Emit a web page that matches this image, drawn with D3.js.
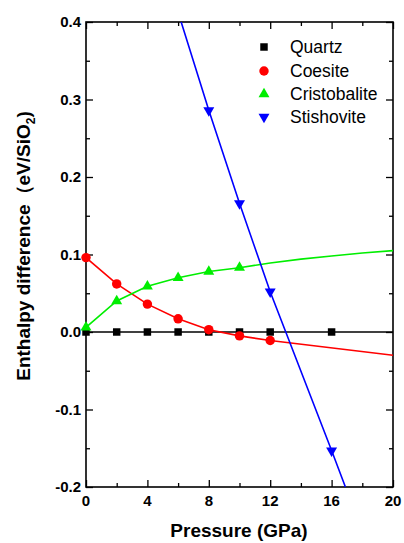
<!DOCTYPE html>
<html>
<head>
<meta charset="utf-8">
<script src="https://d3js.org/d3.v7.min.js"></script>
<style>
  body { margin: 0; background: #fff; }
  svg { display: block; font-family: "Liberation Sans", Arial, sans-serif; }
</style>
</head>
<body>
<svg></svg>
<script>
let width = 404;
let height = 543;
let margin = { left: 86, right: 11, top: 22, bottom: 56 };

// Data
let pressure = [0, 2, 4, 6, 8, 10, 12, 16];
let quartz = [0, 0, 0, 0, 0, 0, 0, 0];
let coesiteP = [0, 2, 4, 6, 8, 10, 12];
let coesite = [0.096, 0.062, 0.036, 0.017, 0.003, -0.005, -0.011];
let cristoP = [0, 2, 4, 6, 8, 10];
let cristo = [0.006, 0.040, 0.059, 0.070, 0.078, 0.083];
let stishP = [8, 10, 12, 16];
let stish = [0.286, 0.166, 0.052, -0.153];

// fitted lines drawn through the points
let quartzLineP = [0, 20];
let quartzLine = [0, 0];
let coesiteLineP = [0, 2, 4, 6, 8, 10, 12, 20];
let coesiteLine = [0.096, 0.062, 0.036, 0.017, 0.003, -0.005, -0.011, -0.030];
let cristoLineP = [0, 2, 4, 6, 8, 10, 12, 14, 16, 18, 20];
let cristoLine = [0.006, 0.040, 0.059, 0.070, 0.078, 0.083, 0.089, 0.094, 0.098, 0.102, 0.105];
let stishLineP = [6.2, 8, 10, 12, 16, 16.9];
let stishLine = [0.4, 0.286, 0.166, 0.052, -0.153, -0.2];

let xTicks = [0, 4, 8, 12, 16, 20];
let xMinor = [2, 6, 10, 14, 18];
let yTicks = [-0.2, -0.1, 0.0, 0.1, 0.2, 0.3, 0.4];
let yMinor = [-0.15, -0.05, 0.05, 0.15, 0.25, 0.35];

let names = ["Quartz", "Coesite", "Cristobalite", "Stishovite"];
let colors = ["#000000", "#ff0000", "#00ee00", "#0000ff"];

let svg = d3.select("svg").attr("width", width).attr("height", height);

let xScale = d3.scaleLinear().domain([0, 20]).range([margin.left, width - margin.right]);
let yScale = d3.scaleLinear().domain([-0.2, 0.4]).range([height - margin.bottom, margin.top]);

let x0 = margin.left, x1 = width - margin.right;
let y0 = height - margin.bottom, y1 = margin.top;

svg.append("clipPath").attr("id", "plot-clip")
  .append("rect")
  .attr("x", x0).attr("y", y1).attr("width", x1 - x0).attr("height", y0 - y1);

// Axes with inward ticks
function ticks(axis, vals, size) {
  return axis.tickValues(vals).tickSize(size).tickFormat("");
}

let gx = svg.append("g").attr("transform", `translate(0, ${y0})`);
gx.call(ticks(d3.axisTop(xScale), xMinor, 4));
gx.append("g").call(ticks(d3.axisTop(xScale), xTicks, 7));

let gxt = svg.append("g").attr("transform", `translate(0, ${y1})`);
gxt.call(ticks(d3.axisBottom(xScale), xMinor, 4));
gxt.append("g").call(ticks(d3.axisBottom(xScale), xTicks, 7));

let gy = svg.append("g").attr("transform", `translate(${x0}, 0)`);
gy.call(ticks(d3.axisRight(yScale), yMinor, 4));
gy.append("g").call(ticks(d3.axisRight(yScale), yTicks, 7));

let gyr = svg.append("g").attr("transform", `translate(${x1}, 0)`);
gyr.call(ticks(d3.axisLeft(yScale), yMinor, 4));
gyr.append("g").call(ticks(d3.axisLeft(yScale), yTicks, 7));

svg.selectAll(".domain").remove();
svg.selectAll(".tick line").attr("stroke", "#000").attr("stroke-width", 1.3);

svg.append("rect")
  .attr("x", x0).attr("y", y1).attr("width", x1 - x0).attr("height", y0 - y1)
  .attr("fill", "none").attr("stroke", "#000").attr("stroke-width", 1.6);

// Tick labels
svg.append("g").selectAll("text").data(xTicks).enter().append("text")
  .attr("x", (d) => xScale(d))
  .attr("y", y0 + 19)
  .attr("text-anchor", "middle")
  .attr("font-size", 15).attr("font-weight", "bold")
  .text((d) => d);

svg.append("g").selectAll("text").data(yTicks).enter().append("text")
  .attr("x", x0 - 5)
  .attr("y", (d) => yScale(d) + 5)
  .attr("text-anchor", "end")
  .attr("font-size", 15).attr("font-weight", "bold")
  .text((d) => d.toFixed(1));

// Axis titles
svg.append("text")
  .attr("x", 239).attr("y", 537)
  .attr("text-anchor", "middle")
  .attr("font-size", 19).attr("font-weight", "bold")
  .text("Pressure (GPa)");

let yt = svg.append("text")
  .attr("transform", `translate(30, 246) rotate(-90)`)
  .attr("text-anchor", "middle")
  .attr("font-size", 19).attr("font-weight", "bold");
yt.append("tspan").text("Enthalpy difference\uFF08eV/SiO");
yt.append("tspan").attr("font-size", 12).attr("dy", 5).text("2");
yt.append("tspan").attr("dy", -5).text(")");

// Lines
let plot = svg.append("g").attr("clip-path", "url(#plot-clip)");
let line = d3.line().x((d) => xScale(d[0])).y((d) => yScale(d[1]));

let lineSets = [
  [quartzLineP, quartzLine],
  [coesiteLineP, coesiteLine],
  [cristoLineP, cristoLine],
  [stishLineP, stishLine],
];
lineSets.forEach((s, i) => {
  plot.append("path")
    .datum(d3.zip(s[0], s[1]))
    .attr("fill", "none")
    .attr("stroke", colors[i])
    .attr("stroke-width", 1.6)
    .attr("d", line);
});

// Markers
let symbols = [
  d3.symbol().type(d3.symbolSquare).size(56),
  d3.symbol().type(d3.symbolCircle).size(70),
  d3.symbol().type(d3.symbolTriangle).size(52),
  d3.symbol().type(d3.symbolTriangle).size(52),
];
let rotations = [0, 0, 0, 180];
let pointSets = [
  [pressure, quartz],
  [coesiteP, coesite],
  [cristoP, cristo],
  [stishP, stish],
];
pointSets.forEach((s, i) => {
  svg.append("g").selectAll("path").data(d3.zip(s[0], s[1])).enter().append("path")
    .attr("d", symbols[i])
    .attr("fill", colors[i])
    .attr("transform", (d) => `translate(${xScale(d[0])}, ${yScale(d[1])}) rotate(${rotations[i]})`);
});

// Legend
let legendY = [47, 71, 94, 117];
let legend = svg.append("g");
names.forEach((n, i) => {
  legend.append("path")
    .attr("d", symbols[i])
    .attr("fill", colors[i])
    .attr("transform", `translate(264, ${legendY[i]}) rotate(${rotations[i]})`);
  legend.append("text")
    .attr("x", 290)
    .attr("y", legendY[i] + 6)
    .attr("font-size", 17.5)
    .text(n);
});
</script>
</body>
</html>
